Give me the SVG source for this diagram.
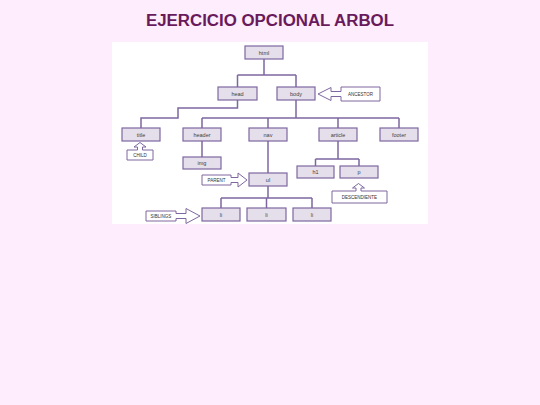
<svg xmlns="http://www.w3.org/2000/svg" width="540" height="405" viewBox="0 0 540 405">
<defs>
<style>
.bg{fill:#FDEDFD}
.panel{fill:#FFFFFF}
.node{fill:#E5DFEC;stroke:#7E67A0;stroke-width:1.2}
.call{fill:#FFFFFF;stroke:#7E67A0;stroke-width:1}
.lbl{font-family:"Liberation Sans",Arial,sans-serif;font-size:5.5px;fill:#404040;text-anchor:middle}
.clbl{font-family:"Liberation Sans",Arial,sans-serif;font-size:4.5px;fill:#303030;text-anchor:middle}
.conn{fill:none;stroke:#7E67A0;stroke-width:1.5}
.title{font-family:"Liberation Sans",Arial,sans-serif;font-weight:bold;font-size:16px;fill:#691A5B;text-anchor:middle}
</style>
</defs>
<rect class="bg" x="0" y="0" width="540" height="405"/>
<text class="title" x="270" y="26" textLength="248" lengthAdjust="spacingAndGlyphs">EJERCICIO OPCIONAL ARBOL</text>
<rect class="panel" x="112" y="42" width="316" height="182"/>
<g id="connectors">
<path class="conn" d="M264,59 V75 M237.5,75 H296 M237.5,75 V87 M296,75 V87"/>
<path class="conn" d="M237.5,100 V108 H178 V118 H141 V128"/>
<path class="conn" d="M296,100 V118 M202,118 H399 M202,118 V128 M268,118 V128 M338,118 V128 M399,118 V128"/>
<path class="conn" d="M202,141 V157"/>
<path class="conn" d="M268,141 V173"/>
<path class="conn" d="M338,141 V159 M315.5,159 H359 M315.5,159 V166 M359,159 V166"/>
<path class="conn" d="M268,186 V198 M221,198 H312 M221,198 V208 M266.5,198 V208 M312,198 V208"/>
</g>
<g id="n-html"><rect class="node" x="245" y="46" width="38" height="13"/><text class="lbl" x="264" y="54.5">html</text></g>
<g id="n-head"><rect class="node" x="218" y="87" width="39" height="13"/><text class="lbl" x="237.5" y="95.5">head</text></g>
<g id="n-body"><rect class="node" x="277" y="87" width="38" height="13"/><text class="lbl" x="296" y="95.5">body</text></g>
<g id="n-title"><rect class="node" x="122" y="128" width="38" height="13"/><text class="lbl" x="141" y="136.5">title</text></g>
<g id="n-header"><rect class="node" x="183" y="128" width="38" height="13"/><text class="lbl" x="202" y="136.5">header</text></g>
<g id="n-nav"><rect class="node" x="249" y="128" width="38" height="13"/><text class="lbl" x="268" y="136.5">nav</text></g>
<g id="n-article"><rect class="node" x="319" y="128" width="38" height="13"/><text class="lbl" x="338" y="136.5">article</text></g>
<g id="n-footer"><rect class="node" x="380" y="128" width="38" height="13"/><text class="lbl" x="399" y="136.5">footer</text></g>
<g id="n-img"><rect class="node" x="183" y="157" width="38" height="12"/><text class="lbl" x="202" y="165">img</text></g>
<g id="n-ul"><rect class="node" x="249" y="173" width="38" height="13"/><text class="lbl" x="268" y="181.5">ul</text></g>
<g id="n-h1"><rect class="node" x="297" y="166" width="37" height="12"/><text class="lbl" x="315.5" y="174">h1</text></g>
<g id="n-p"><rect class="node" x="340" y="166" width="38" height="12"/><text class="lbl" x="359" y="174">p</text></g>
<g id="n-li1"><rect class="node" x="202" y="208" width="38" height="13"/><text class="lbl" x="221" y="216.5">li</text></g>
<g id="n-li2"><rect class="node" x="247" y="208" width="39" height="13"/><text class="lbl" x="266.5" y="216.5">li</text></g>
<g id="n-li3"><rect class="node" x="293" y="208" width="38" height="13"/><text class="lbl" x="312" y="216.5">li</text></g>
<g id="c-ancestor"><path class="call" d="M341,87 H380 V101 H341 V96.5 H331 V100.5 L318,94 L331,87.5 V91.5 H341 Z"/><text class="clbl" x="360.5" y="95.6">ANCESTOR</text></g>
<g id="c-child"><path class="call" d="M127,150 H137.5 V147 H134 L140,142.5 L146,147 H142.5 V150 H153 V160 H127 Z"/><text class="clbl" x="140" y="156.6">CHILD</text></g>
<g id="c-parent"><path class="call" d="M202,175 H231 V177.5 H238 V173 L247,180 L238,187 V182.5 H231 V185 H202 Z"/><text class="clbl" x="216.5" y="181.6">PARENT</text></g>
<g id="c-descendiente"><path class="call" d="M332,191 H356 V188 H352.5 L358.5,183.5 L364.5,188 H361 V191 H387 V203 H332 Z"/><text class="clbl" x="359.5" y="198.6">DESCENDIENTE</text></g>
<g id="c-siblings"><path class="call" d="M146,211 H176 V213.5 H186 V208.5 L200,216 L186,223.5 V218.5 H176 V221 H146 Z"/><text class="clbl" x="161" y="217.6">SIBLINGS</text></g>
</svg>
